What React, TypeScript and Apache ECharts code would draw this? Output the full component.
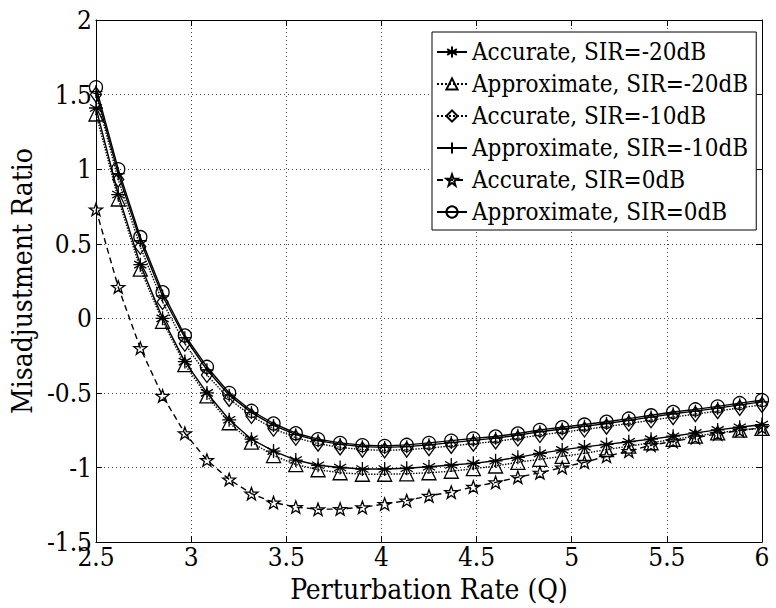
import React, { useEffect, useRef } from "react";
import * as echarts from "echarts";

// Perturbation rate Q (x) sample points
const qValues = [
  2.5, 2.617, 2.733, 2.85, 2.967, 3.083, 3.2, 3.317, 3.433, 3.55, 3.667,
  3.783, 3.9, 4.017, 4.133, 4.25, 4.367, 4.483, 4.6, 4.717, 4.833, 4.95,
  5.067, 5.183, 5.3, 5.417, 5.533, 5.65, 5.767, 5.883, 6.0,
];

const accurate20 = [
  1.41, 0.83, 0.36, 0.0, -0.29, -0.5, -0.68, -0.81, -0.89, -0.95, -0.985,
  -1.0, -1.01, -1.01, -1.005, -0.995, -0.983, -0.972, -0.955, -0.932, -0.905,
  -0.882, -0.862, -0.845, -0.827, -0.81, -0.79, -0.768, -0.748, -0.73, -0.712,
];

const approximate20 = [
  1.37, 0.8, 0.33, -0.02, -0.31, -0.52, -0.7, -0.83, -0.92, -0.98, -1.015,
  -1.035, -1.045, -1.045, -1.042, -1.035, -1.025, -1.008, -0.99, -0.965,
  -0.945, -0.925, -0.905, -0.88, -0.857, -0.834, -0.812, -0.79, -0.768, -0.75,
  -0.738,
];

const accurate10 = [
  1.5, 0.93, 0.48, 0.11, -0.17, -0.38, -0.54, -0.655, -0.74, -0.8, -0.84,
  -0.865, -0.88, -0.885, -0.88, -0.87, -0.855, -0.84, -0.825, -0.805, -0.782,
  -0.763, -0.745, -0.726, -0.705, -0.683, -0.662, -0.642, -0.622, -0.6, -0.58,
];

const approximate10 = [
  1.52, 0.97, 0.52, 0.15, -0.13, -0.345, -0.515, -0.632, -0.718, -0.78,
  -0.82, -0.845, -0.86, -0.865, -0.86, -0.848, -0.833, -0.818, -0.803, -0.783,
  -0.76, -0.742, -0.724, -0.705, -0.684, -0.662, -0.64, -0.622, -0.602, -0.58,
  -0.56,
];

const accurate0 = [
  0.73, 0.21, -0.2, -0.52, -0.77, -0.95, -1.08, -1.175, -1.235, -1.265, -1.28,
  -1.278, -1.267, -1.245, -1.222, -1.19, -1.165, -1.13, -1.1, -1.065, -1.035,
  -1.0, -0.965, -0.925, -0.89, -0.85, -0.825, -0.8, -0.775, -0.752, -0.733,
];

const approximate0 = [
  1.55, 1.0, 0.545, 0.175, -0.115, -0.325, -0.5, -0.62, -0.705, -0.77, -0.81,
  -0.835, -0.85, -0.855, -0.848, -0.835, -0.82, -0.805, -0.792, -0.772,
  -0.748, -0.73, -0.712, -0.693, -0.672, -0.65, -0.628, -0.61, -0.59, -0.568,
  -0.548,
];

const seriesNames = [
  "Accurate, SIR=-20dB",
  "Approximate, SIR=-20dB",
  "Accurate, SIR=-10dB",
  "Approximate, SIR=-10dB",
  "Accurate, SIR=0dB",
  "Approximate, SIR=0dB",
];

const xTitle = "Perturbation Rate (Q)";
const yTitle = "Misadjustment Ratio";

const ASTERISK =
  "path://M0,-10L0,10M-8.66,-5L8.66,5M-8.66,5L8.66,-5M-10,0L10,0";
const PLUS = "path://M0,-10L0,10M-10,0L10,0";
const STAR =
  "path://M0,-10L2.35,-3.24L9.51,-3.09L3.8,1.24L5.88,8.09L0,4L-5.88,8.09L-3.8,1.24L-9.51,-3.09L-2.35,-3.24Z";

const FONT = "'DejaVu Serif Condensed', 'DejaVu Serif', serif";

export default function App() {
  const ref = useRef<HTMLDivElement>(null);

  useEffect(() => {
    if (!ref.current) return;
    const chart = echarts.init(ref.current, undefined, { renderer: "svg" });

    const defs = [
      { data: accurate20, symbol: ASTERISK, size: 14, line: "solid" as any },
      { data: approximate20, symbol: "triangle", size: 14, line: "dotted" as any },
      { data: accurate10, symbol: "diamond", size: [11, 15], line: "dotted" as any },
      { data: approximate10, symbol: PLUS, size: 13, line: "solid" as any },
      { data: accurate0, symbol: STAR, size: 13, line: [6, 4] as any },
      { data: approximate0, symbol: "circle", size: 13, line: "solid" as any },
    ];

    const series = defs.map((d, k) => ({
      name: seriesNames[k],
      type: "line",
      data: qValues.map((q, i) => [q, d.data[i]]),
      symbol: d.symbol,
      symbolSize: d.size,
      symbolKeepAspect: true,
      showAllSymbol: true,
      lineStyle: { color: "#000", width: 1.4, type: d.line },
      itemStyle: { color: "rgba(0,0,0,0)", borderColor: "#000", borderWidth: 1.3 },
      emphasis: { disabled: true },
      z: 3,
    }));

    const axisCommon = {
      axisLine: { show: true, onZero: false, lineStyle: { color: "#000", width: 1 } },
      axisTick: { show: true, inside: true, length: 6, lineStyle: { color: "#000" } },
    };

    chart.setOption({
      animation: false,
      backgroundColor: "#fff",
      textStyle: { fontFamily: FONT },
      grid: { left: 93, right: 14, top: 20, bottom: 63, containLabel: false },
      legend: {
        orient: "vertical",
        left: 432,
        top: 32,
        padding: [4, 8, 2, 4],
        itemWidth: 30,
        itemHeight: 14,
        itemGap: 0,
        borderColor: "#000",
        borderWidth: 1,
        backgroundColor: "#fff",
        textStyle: { fontFamily: FONT, fontSize: 24, color: "#000", lineHeight: 32 },
        data: seriesNames,
        selectedMode: false,
      },
      xAxis: [
        {
          type: "value",
          min: 2.5,
          max: 6,
          interval: 0.5,
          name: xTitle,
          nameLocation: "middle",
          nameGap: 30,
          nameTextStyle: { fontFamily: FONT, fontSize: 28, color: "#000" },
          ...axisCommon,
          axisLabel: { fontFamily: FONT, fontSize: 26, color: "#000", margin: 2, showMinLabel: true, showMaxLabel: true },
          splitLine: { show: true, lineStyle: { color: "#444", type: [1, 3], width: 1 } },
        },
        {
          type: "value",
          position: "top",
          min: 2.5,
          max: 6,
          interval: 0.5,
          ...axisCommon,
          axisLabel: { show: false },
          splitLine: { show: false },
        },
      ],
      yAxis: [
        {
          type: "value",
          min: -1.5,
          max: 2,
          interval: 0.5,
          name: yTitle,
          nameLocation: "middle",
          nameGap: 44,
          nameTextStyle: { fontFamily: FONT, fontSize: 28, color: "#000" },
          ...axisCommon,
          axisLabel: { fontFamily: FONT, fontSize: 26, color: "#000", margin: 4, showMinLabel: true, showMaxLabel: true },
          splitLine: { show: true, lineStyle: { color: "#444", type: [1, 3], width: 1 } },
        },
        {
          type: "value",
          position: "right",
          min: -1.5,
          max: 2,
          interval: 0.5,
          ...axisCommon,
          axisLabel: { show: false },
          splitLine: { show: false },
        },
      ],
      series,
    });

    return () => chart.dispose();
  }, []);

  return (
    <div
      ref={ref}
      style={{ position: "absolute", left: 0, top: 0, width: 776, height: 608, background: "#fff" }}
    />
  );
}
